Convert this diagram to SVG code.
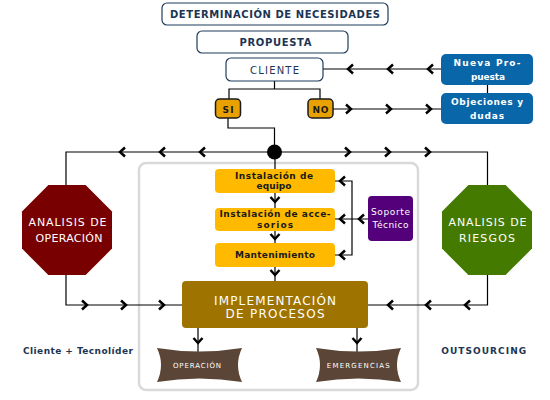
<svg xmlns="http://www.w3.org/2000/svg" xmlns:xlink="http://www.w3.org/1999/xlink" width="550" height="400" viewBox="0 0 550 400">
<style>
text{font-family:"DejaVu Sans","Verdana",sans-serif;text-anchor:middle}
.top{fill:#fff;stroke:#1f3d5c;stroke-width:1.2}
.tt{fill:#1c3553;font-size:10px;font-weight:bold}
.blue{fill:#0966a8}
.wt{fill:#fff;font-size:9px;font-weight:bold}
.wn{fill:#fff;font-size:9px}
.sn{fill:#e8a100;stroke:#1a1a1a;stroke-width:1.5}
.yel{fill:#ffba00}
.yt{fill:#1a1a1a;font-size:9px;font-weight:bold}
.oct{fill:#fff;font-size:11px}
.ln{fill:none;stroke:#000;stroke-width:1.2}
.ban{fill:#5b4536}
.bt{fill:#fff;font-size:7px}
.lbl{fill:#1c3553;font-size:9px;font-weight:bold}
</style>
<defs>
<path id="chev" d="M-3,-4.5 L2,0 L-3,4.5" fill="none" stroke="#000" stroke-width="2.5"/>
</defs>
<rect x="139" y="163" width="279" height="227" rx="7" fill="#fff" stroke="#d9d9d9" stroke-width="2.5"/>
<g id="connectors">
<path class="ln" d="M274.5,81 V89 M229,99 V89 H320 V99"/>
<path class="ln" d="M228,118 V128 H274.5 V152"/>
<path class="ln" d="M323,69 H441"/>
<path class="ln" d="M333,109 H441"/>
<path class="ln" d="M487.5,85 V93"/>
<path class="ln" d="M66,185 V152 H487.5 V185"/>
<path class="ln" d="M275,152 V169 M275,193 V208 M275,231 V243 M275,267 V281"/>
<path class="ln" d="M335,181 H352 V255 H335 M335,219 H368"/>
<path class="ln" d="M66,275 V305 H182 M368,305 H487.5 V275"/>
<path class="ln" d="M198,328 V352 M357,328 V352"/>
<circle cx="274.5" cy="152" r="7.5" fill="#000"/>
<use xlink:href="#chev" transform="translate(350,69) rotate(180)"/>
<use xlink:href="#chev" transform="translate(390,69) rotate(180)"/>
<use xlink:href="#chev" transform="translate(430,69) rotate(180)"/>
<use xlink:href="#chev" transform="translate(349,109)"/>
<use xlink:href="#chev" transform="translate(389,109)"/>
<use xlink:href="#chev" transform="translate(429,109)"/>
<use xlink:href="#chev" transform="translate(122,152) rotate(180)"/>
<use xlink:href="#chev" transform="translate(162,152) rotate(180)"/>
<use xlink:href="#chev" transform="translate(202,152) rotate(180)"/>
<use xlink:href="#chev" transform="translate(348,152)"/>
<use xlink:href="#chev" transform="translate(388,152)"/>
<use xlink:href="#chev" transform="translate(428,152)"/>
<use xlink:href="#chev" transform="translate(275,200) rotate(90)"/>
<use xlink:href="#chev" transform="translate(275,237) rotate(90)"/>
<use xlink:href="#chev" transform="translate(275,273) rotate(90)"/>
<use xlink:href="#chev" transform="translate(342,181) rotate(180)"/>
<use xlink:href="#chev" transform="translate(342,219) rotate(180)"/>
<use xlink:href="#chev" transform="translate(342,255) rotate(180)"/>
<use xlink:href="#chev" transform="translate(361,219) rotate(180)"/>
<use xlink:href="#chev" transform="translate(85,305)"/>
<use xlink:href="#chev" transform="translate(124,305)"/>
<use xlink:href="#chev" transform="translate(162,305)"/>
<use xlink:href="#chev" transform="translate(390,305) rotate(180)"/>
<use xlink:href="#chev" transform="translate(428,305) rotate(180)"/>
<use xlink:href="#chev" transform="translate(467,305) rotate(180)"/>
<use xlink:href="#chev" transform="translate(198,341) rotate(90)"/>
<use xlink:href="#chev" transform="translate(357,341) rotate(90)"/>
</g>
<g id="determinacion">
<rect class="top" x="162" y="3" width="226" height="22" rx="5"/>
<text class="tt" x="275" y="18" textLength="210">DETERMINACIÓN DE NECESIDADES</text>
</g>
<g id="propuesta">
<rect class="top" x="197" y="31" width="151" height="22" rx="5"/>
<text class="tt" x="275.5" y="46" textLength="72">PROPUESTA</text>
</g>
<g id="cliente">
<rect class="top" x="226" y="58" width="97" height="23" rx="5"/>
<text x="274.5" y="74" fill="#1c3553" font-size="10" textLength="49">CLIENTE</text>
</g>
<g id="nueva">
<rect class="blue" x="441" y="54" width="92" height="31" rx="5"/>
<text class="wt" x="487" y="66" textLength="67">Nueva Pro-</text>
<text class="wt" x="488" y="79.5" textLength="34">puesta</text>
</g>
<g id="objeciones">
<rect class="blue" x="441" y="93" width="92" height="31" rx="5"/>
<text class="wt" x="487" y="104.5" textLength="72">Objeciones y</text>
<text class="wt" x="487" y="119" textLength="34">dudas</text>
</g>
<g id="si">
<rect class="sn" x="215.5" y="99" width="25" height="19" rx="4"/>
<text class="yt" x="228" y="112.5" textLength="11">SI</text>
</g>
<g id="no">
<rect class="sn" x="308" y="99" width="25" height="19" rx="4"/>
<text class="yt" x="320.5" y="112.5" textLength="16">NO</text>
</g>
<g id="analisis-operacion">
<polygon points="48.4,185 85.6,185 112,211.4 112,248.6 85.6,275 48.4,275 22,248.6 22,211.4" fill="#780000"/>
<text class="oct" x="67.5" y="225.7" textLength="78">ANALISIS DE</text>
<text class="oct" x="69" y="241.7" textLength="67">OPERACIÓN</text>
</g>
<g id="analisis-riesgos">
<polygon points="468.4,185 505.6,185 532,211.4 532,248.6 505.6,275 468.4,275 442,248.6 442,211.4" fill="#447a00"/>
<text class="oct" x="487.5" y="225.7" textLength="78">ANALISIS DE</text>
<text class="oct" x="487" y="241.7" textLength="56">RIESGOS</text>
</g>
<g id="instalacion-equipo">
<rect class="yel" x="215" y="169" width="120" height="24" rx="4"/>
<text class="yt" x="274" y="178.5" textLength="78">Instalación de</text>
<text class="yt" x="274" y="188.5" textLength="35">equipo</text>
</g>
<g id="instalacion-accesorios">
<rect class="yel" x="215" y="208" width="120" height="23" rx="4"/>
<text class="yt" x="275" y="216.5" textLength="111">Instalación de acce-</text>
<text class="yt" x="275" y="227.5" textLength="36">sorios</text>
</g>
<g id="mantenimiento">
<rect class="yel" x="215" y="243" width="120" height="24" rx="4"/>
<text class="yt" x="275" y="258" textLength="80">Mantenimiento</text>
</g>
<g id="soporte">
<rect x="368" y="196" width="45" height="45" rx="4" fill="#53007a"/>
<text class="wn" x="390.5" y="215" textLength="39">Soporte</text>
<text class="wn" x="390.5" y="227.5" textLength="36">Técnico</text>
</g>
<g id="implementacion">
<rect x="182" y="281" width="186" height="47" rx="4" fill="#9e7300"/>
<text x="275" y="305" fill="#fff" font-size="12" textLength="122">IMPLEMENTACIÓN</text>
<text x="275" y="318" fill="#fff" font-size="12" textLength="99">DE PROCESOS</text>
</g>
<g id="operacion">
<path class="ban" d="M157,348 Q199,355 242,348 Q234,365 242,382 Q199,375 157,382 Q165,365 157,348 Z"/>
<text class="bt" x="197" y="367.7" textLength="48">OPERACIÓN</text>
</g>
<g id="emergencias">
<path class="ban" d="M316,348 Q358,355 401,348 Q393,365 401,382 Q358,375 316,382 Q324,365 316,348 Z"/>
<text class="bt" x="358.3" y="367.7" textLength="63">EMERGENCIAS</text>
</g>
<text class="lbl" x="78" y="354" textLength="110">Cliente + Tecnolíder</text>
<text class="lbl" x="483.7" y="354" textLength="85">OUTSOURCING</text>
</svg>
